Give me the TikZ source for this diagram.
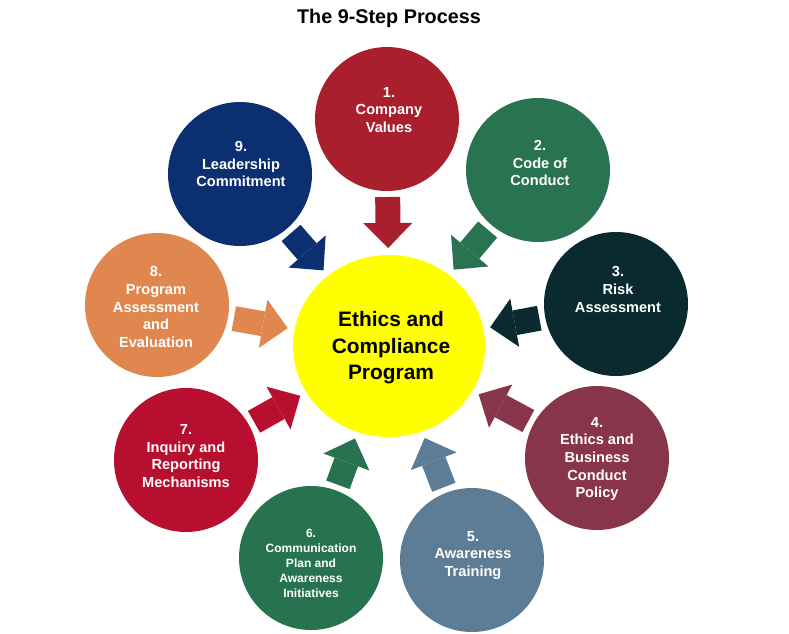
\documentclass[tikz,border=0pt]{standalone}
\usepackage{fontspec}
\setmainfont{Liberation Sans}
\usetikzlibrary{arrows.meta,shapes.geometric}
\definecolor{cone}{RGB}{169,31,46}
\definecolor{ctwo}{RGB}{41,115,80}
\definecolor{cthree}{RGB}{11,42,47}
\definecolor{cfour}{RGB}{136,53,75}
\definecolor{cfive}{RGB}{93,124,149}
\definecolor{csix}{RGB}{39,115,80}
\definecolor{cseven}{RGB}{184,14,47}
\definecolor{ceight}{RGB}{224,135,79}
\definecolor{cnine}{RGB}{12,47,114}
\definecolor{cyel}{RGB}{255,255,0}
\begin{document}
\begin{tikzpicture}[x=1pt,y=-1pt,
  stepcirc/.style={circle,minimum size=144pt,inner sep=0pt,outer sep=0pt,draw=none},
  steptext/.style={text=white,align=center,inner sep=0pt,font=\fontsize{14.6}{17.7}\selectfont\bfseries},
  smalltext/.style={steptext,font=\fontsize{12}{15}\selectfont\bfseries},
  blk/.style={line width=25pt,shorten <=6pt,shorten >=7pt,
    -{Triangle[length=25pt,width=49pt,line width=0pt]}}]
\useasboundingbox (0,0) rectangle (789,633);
% title
\node[anchor=base,inner sep=0pt,font=\fontsize{19.8}{23}\selectfont\bfseries] (title) at (389,23.3) {The 9-Step Process};
% centre
\node[ellipse,fill=cyel,minimum width=192pt,minimum height=182pt,inner sep=0pt,outer sep=0pt] (ctr) at (389,346) {};
\node[align=center,inner sep=0pt,font=\fontsize{20.9}{26.5}\selectfont\bfseries] (ctrtext) at (391,348) {Ethics and\\Compliance\\Program};
% outer circles
\node[stepcirc,fill=cone]   (c1) at (387,119) {};
\node[stepcirc,fill=ctwo]   (c2) at (538,170) {};
\node[stepcirc,fill=cthree] (c3) at (616,304) {};
\node[stepcirc,fill=cfour]  (c4) at (597,458) {};
\node[stepcirc,fill=cfive]  (c5) at (472,560) {};
\node[stepcirc,fill=csix]   (c6) at (311,558) {};
\node[stepcirc,fill=cseven] (c7) at (186,460) {};
\node[stepcirc,fill=ceight] (c8) at (157,305) {};
\node[stepcirc,fill=cnine]  (c9) at (240,174) {};
% texts
\node[steptext] (t1) at (389,110) {1.\\Company\\Values};
\node[steptext] (t2) at (540,163) {2.\\Code of\\Conduct};
\node[steptext] (t3) at (618,289.5) {3.\\Risk\\Assessment};
\node[steptext] (t4) at (597,459) {4.\\Ethics and\\Business\\Conduct\\Policy};
\node[steptext] (t5) at (473,555.5) {5.\\Awareness\\Training};
\node[smalltext] (t6) at (311,563) {6.\\Communication\\Plan and\\Awareness\\Initiatives};
\node[steptext] (t7) at (186,456) {7.\\Inquiry and\\Reporting\\Mechanisms};
\node[steptext] (t8) at (156,307) {8.\\Program\\Assessment\\and\\Evaluation};
\node[steptext] (t9) at (241,164) {9.\\Leadership\\Commitment};
% block arrows
\draw[blk,draw=cone,fill=cone]       (c1) -- (ctr);
\draw[blk,draw=ctwo,fill=ctwo]       (c2) -- (ctr);
\draw[blk,draw=cthree,fill=cthree]   (c3) -- (ctr);
\draw[blk,draw=cfour,fill=cfour]     (c4) -- (ctr);
\draw[blk,draw=cfive,fill=cfive]     (c5) -- (ctr);
\draw[blk,draw=csix,fill=csix]       (c6) -- (ctr);
\draw[blk,draw=cseven,fill=cseven]   (c7) -- (ctr);
\draw[blk,draw=ceight,fill=ceight]   (c8) -- (ctr);
\draw[blk,draw=cnine,fill=cnine]     (c9) -- (ctr);
\end{tikzpicture}
\end{document}
